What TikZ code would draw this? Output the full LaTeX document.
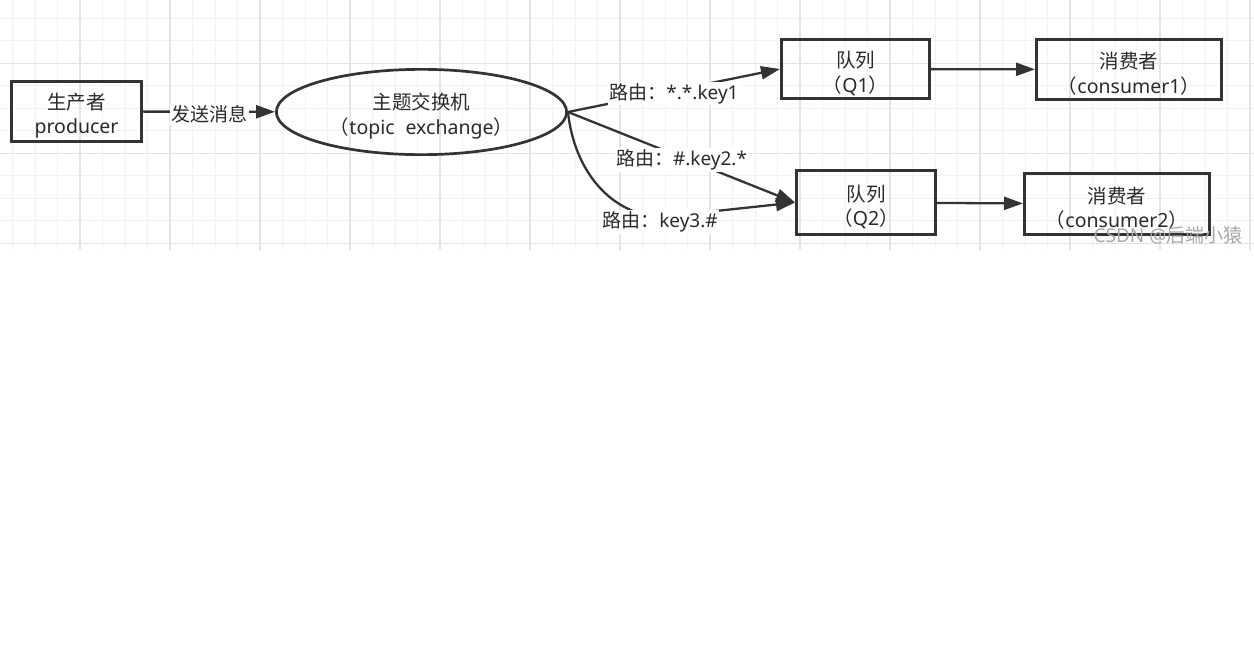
\documentclass[tikz,border=0pt]{standalone}
\usepackage{fontspec}
\setmainfont{Noto Sans}
\newfontfamily\cjk{Noto Sans CJK SC}
\usetikzlibrary{shapes.geometric,arrows.meta}
\definecolor{ink}{HTML}{333333}
\definecolor{txtc}{HTML}{2A2A2A}
\definecolor{gridminor}{HTML}{F2F2F2}
\definecolor{gridmajor}{HTML}{E4E4E4}
\definecolor{wm}{HTML}{A8A8A8}
\newcommand\myup{\rule{0pt}{25pt}}
\begin{document}
\begin{tikzpicture}[x=1pt,y=-1pt,
  txt/.style={text=txtc,font=\fontsize{19.5}{24.5}\selectfont,align=center},
  box/.style={txt,draw=ink,line width=2.7pt,rectangle,inner sep=0pt},
  oval/.style={txt,draw=ink,line width=2.7pt,ellipse,inner sep=0pt},
  conn/.style={draw=ink,line width=2.3pt,-{Triangle[length=19pt,width=13pt]}},
  lbl/.style={fill=white,inner sep=1.5pt,yshift=-3pt,text=txtc,font=\fontsize{19}{22}\selectfont}
]
\useasboundingbox (0,0) rectangle (1254,648);
\fill[white] (0,0) rectangle (1254,648);
% grid
\foreach \x in {12.5,35,...,1254} \draw[gridminor,line width=1pt] (\x,0) -- (\x,250);
\foreach \y in {18.3,40.8,...,250} \draw[gridminor,line width=1pt] (0,\y) -- (1254,\y);
\foreach \x in {80,170,...,1254} \draw[gridmajor,line width=1.3pt] (\x,0) -- (\x,250);
\foreach \y in {63.3,153.3,243.3} \draw[gridmajor,line width=1.3pt] (0,\y) -- (1254,\y);

% nodes
\node[box,minimum width=130.3pt,minimum height=60.3pt] (prod) at (76.5,111.5) {\myup{\cjk 生产者}\\producer};
\node[oval,minimum width=290.3pt,minimum height=85.3pt] (ex) at (421.5,112) {\myup{\cjk 主题交换机}\\{\cjk （}topic\hspace{0.3em} exchange{\cjk ）}};
\node[box,minimum width=148.3pt,minimum height=59.3pt] (q1) at (855.5,69) {\myup{\cjk 队列}\\{\cjk （}Q1{\cjk ）}};
\node[box,minimum width=185.3pt,minimum height=60.3pt] (c1) at (1129,69.5) {\myup{\cjk 消费者}\\{\cjk （}consumer1{\cjk ）}};
\node[box,minimum width=139.3pt,minimum height=64.3pt] (q2) at (866,202.5) {\myup{\cjk 队列}\\{\cjk （}Q2{\cjk ）}};
\node[box,minimum width=185.3pt,minimum height=61.3pt] (c2) at (1117,204) {\myup{\cjk 消费者}\\{\cjk （}consumer2{\cjk ）}};

% connectors
\draw[conn] (prod) -- node[lbl] (l0) {{\cjk 发送消息}} (ex);
\draw[conn] (ex.east) -- node[lbl] (l1) {{\cjk 路由：}*.*.key1} (q1.west);
\draw[conn] (ex.east) -- node[lbl] (l2) {{\cjk 路由：}\#.key2.*} (q2.west);
\coordinate (k3) at (660,217);
\draw[conn] (ex.east) .. controls (574,170) and (610,214) .. (k3) -- (q2.west);
\node[lbl] (l3) at (660,219) {{\cjk 路由：}key3.\#};
\draw[conn] (q1) -- (c1);
\draw[conn] (q2) -- (c2);

% watermark
\node[text=wm,font=\fontsize{19}{21}\selectfont,inner sep=0pt] (wmk) at (1168,235) {CSDN @{\cjk 后端小猿}};
\end{tikzpicture}
\end{document}
